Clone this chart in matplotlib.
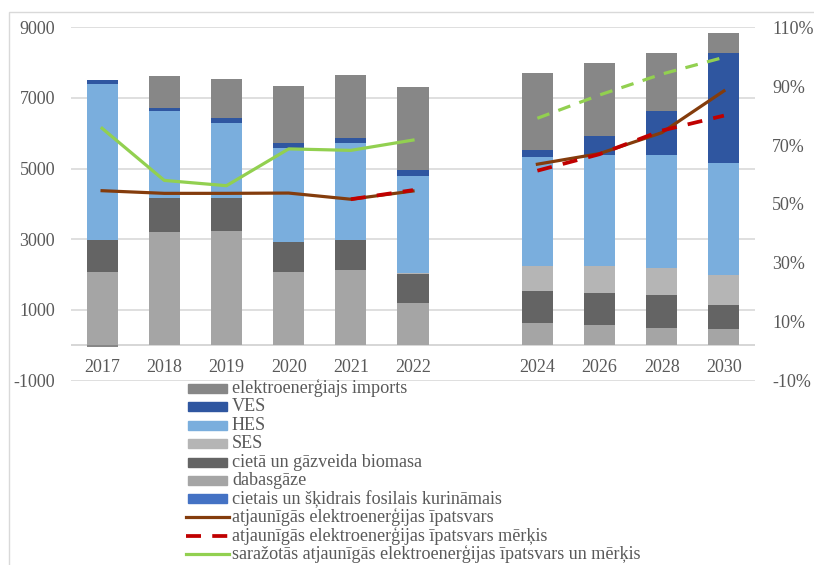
import numpy as np
import matplotlib
matplotlib.use("Agg")
import matplotlib.pyplot as plt
from matplotlib.patches import Rectangle
from matplotlib.lines import Line2D

# ---------------- data ----------------
categories = ['2017', '2018', '2019', '2020', '2021', '2022', '', '2024', '2026', '2028', '2030']
fossil    = [0, 0, 0, 0, 0, 0, 0, 0, 0, 0, 0]
dabasgaze = [2070, 3210, 3240, 2065, 2130, 1200, 0, 635, 570, 500, 455]
biomasa   = [920, 945, 915, 870, 860, 805, 0, 910, 910, 910, 680]
ses       = [0, 0, 0, 0, 0, 30, 0, 710, 765, 785, 855]
hes       = [4400, 2465, 2140, 2635, 2730, 2760, 0, 3070, 3145, 3195, 3160]
ves       = [130, 95, 140, 150, 160, 180, 0, 190, 520, 1230, 3125]
imports   = [-50, 910, 1115, 1630, 1760, 2330, 0, 2180, 2075, 1640, 570]

nan = np.nan
re_share  = [54.5, 53.6, 53.6, 53.7, 51.6, 54.4, nan, 63.5, 67.1, 74.2, 88.4]
re_target = [nan, nan, nan, nan, 51.6, 54.7, nan, 61.3, 66.9, 74.9, 80.0]
re_prod   = [75.7, 58.0, 56.2, 68.7, 68.2, 71.7, nan, 79.1, 87.0, 94.1, 99.8]

left_ticks = [-1000, 1000, 3000, 5000, 7000, 9000]
right_ticks = [-10, 10, 30, 50, 70, 90, 110]

labels = ['elektroenerģiajs imports', 'VES', 'HES', 'SES', 'cietā un gāzveida biomasa',
          'dabasgāze', 'cietais un šķidrais fosilais kurināmais',
          'atjaunīgās elektroenerģijas īpatsvars', 'atjaunīgās elektroenerģijas īpatsvars mērķis',
          'saražotās atjaunīgās elektroenerģijas īpatsvars un mērķis']

# ---------------- style ----------------
C_IMP, C_VES, C_HES, C_SES = '#878787', '#2F56A0', '#7AAEDD', '#B5B5B5'
C_BIO, C_GAS, C_FOS = '#646464', '#A5A5A5', '#4472C4'
C_BROWN, C_RED, C_GREEN = '#843C0C', '#C00000', '#92D050'
TXT = '#595959'
GRID = '#D9D9D9'
FONT = 'Liberation Serif'

W, H = 814, 565
fig = plt.figure(figsize=(W / 100, H / 100), dpi=100)

def fx(px):
    return px / W

def fy(py):
    return (H - py) / H

# chart frame
fig.patches.append(Rectangle((fx(9), fy(H + 5)), fx(W + 10) - fx(9), fy(12) - fy(H + 5),
                             transform=fig.transFigure, fill=False, edgecolor=GRID, lw=1.0))

ax = fig.add_axes([fx(71), fy(380.6), fx(755) - fx(71), fy(27.3) - fy(380.6)])
ax2 = ax.twinx()

x = np.arange(len(categories))
series = [(fossil, C_FOS), (dabasgaze, C_GAS), (biomasa, C_BIO), (ses, C_SES),
          (hes, C_HES), (ves, C_VES), (imports, C_IMP)]
pos_bottom = np.zeros(len(x))
neg_bottom = np.zeros(len(x))
for vals, col in series:
    v = np.array(vals, dtype=float)
    bottom = np.where(v >= 0, pos_bottom, neg_bottom)
    ax.bar(x, v, width=0.5, bottom=bottom, color=col, zorder=2, linewidth=0)
    pos_bottom += np.where(v >= 0, v, 0)
    neg_bottom += np.where(v < 0, v, 0)

ax.set_xlim(-0.5, len(x) - 0.5)
ax.set_ylim(-1000, 9000)
ax.set_yticks(left_ticks)
ax.set_yticklabels([str(t) for t in left_ticks])
ax.yaxis.grid(True, color=GRID, lw=1.2, zorder=0)
ax.set_axisbelow(True)
ax.axhline(0, color='#D0D0D0', lw=1.2, zorder=1)
ax.set_xticks([])
for s in ax.spines.values():
    s.set_visible(False)
ax.tick_params(axis='y', length=0, pad=11.5, labelcolor=TXT, labelsize=13)
for lab in ax.get_yticklabels():
    lab.set_fontfamily(FONT)
for i, c in enumerate(categories):
    ax.text(i, -625, c, ha='center', va='center', fontsize=13, family=FONT, color=TXT)

# lines on secondary axis
ax2.set_ylim(-10, 110)
ax2.set_yticks(right_ticks)
ax2.set_yticklabels([f'{t}%' for t in right_ticks])
ax2.tick_params(axis='y', length=0, pad=12.2, labelcolor=TXT, labelsize=13)
for lab in ax2.get_yticklabels():
    lab.set_fontfamily(FONT)
for s in ax2.spines.values():
    s.set_visible(False)

hist = slice(0, 6)
proj = slice(7, 11)
ax2.plot(x, re_share, color=C_BROWN, lw=2.3, zorder=3)
ax2.plot(x, re_target, color=C_RED, lw=2.7, dashes=(4, 3), zorder=4)
ax2.plot(x[hist], np.array(re_prod)[hist], color=C_GREEN, lw=2.3, zorder=3)
ax2.plot(x[proj], np.array(re_prod)[proj], color=C_GREEN, lw=2.3, dashes=(4, 3), zorder=3)

# legend (drawn manually below the plot)
leg_colors = [C_IMP, C_VES, C_HES, C_SES, C_BIO, C_GAS, C_FOS]
for i, lab in enumerate(labels):
    yc = 388.5 + i * 18.4
    if i < 7:
        fig.patches.append(Rectangle((fx(188), fy(yc + 4.5)), fx(227) - fx(188), fy(yc - 4.5) - fy(yc + 4.5),
                                     transform=fig.transFigure, color=leg_colors[i]))
    elif i == 7:
        fig.lines.append(Line2D([fx(186), fx(229)], [fy(yc), fy(yc)], transform=fig.transFigure,
                                color=C_BROWN, lw=2.3))
    elif i == 8:
        fig.lines.append(Line2D([fx(186), fx(229)], [fy(yc), fy(yc)], transform=fig.transFigure,
                                color=C_RED, lw=2.7, dashes=(4, 3)))
    else:
        fig.lines.append(Line2D([fx(186), fx(229)], [fy(yc), fy(yc)], transform=fig.transFigure,
                                color=C_GREEN, lw=2.3))
    fig.text(fx(232), fy(yc), lab, ha='left', va='center', fontsize=13.1, family=FONT, color=TXT)

fig.savefig('out.png', dpi=100)
